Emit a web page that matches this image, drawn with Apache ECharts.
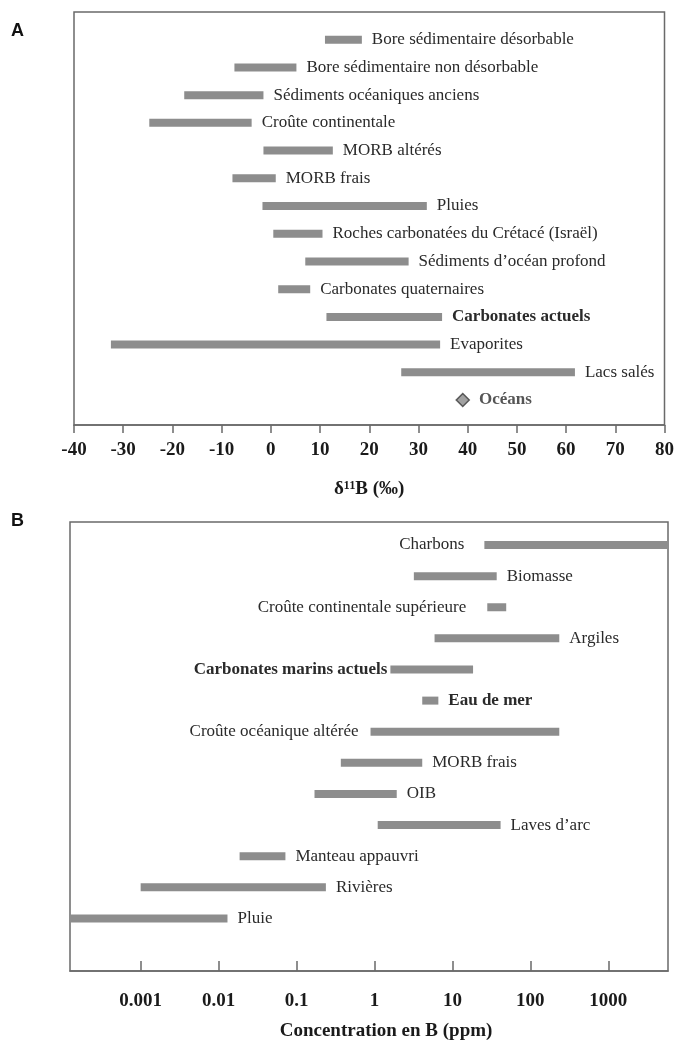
<!DOCTYPE html>
<html>
<head>
<meta charset="utf-8">
<script src="https://cdn.jsdelivr.net/npm/echarts@6/dist/echarts.min.js"></script>
<style>
  html, body { margin: 0; padding: 0; background: #ffffff; }
  #chart { width: 677px; height: 1049px; }
</style>
</head>
<body>
<div id="chart"></div>
<script>
// ---------- Panel A : δ11B (‰) ----------
const isoCategories = [
  "Bore sédimentaire désorbable",
  "Bore sédimentaire non désorbable",
  "Sédiments océaniques anciens",
  "Croûte continentale",
  "MORB altérés",
  "MORB frais",
  "Pluies",
  "Roches carbonatées du Crétacé (Israël)",
  "Sédiments d’océan profond",
  "Carbonates quaternaires",
  "Carbonates actuels",
  "Evaporites",
  "Lacs salés"
];
const isoMin = [11, -7.4, -17.6, -24.7, -1.5, -7.8, -1.7, 0.5, 7, 1.5, 11.3, -32.5, 26.5];
const isoMax = [18.5, 5.2, -1.5, -3.9, 12.6, 1, 31.7, 10.5, 28, 8, 34.8, 34.4, 61.8];
const oceansLabel = "Océans";
const oceansValue = 39;
const isoTicks = [-40, -30, -20, -10, 0, 10, 20, 30, 40, 50, 60, 70, 80];

// ---------- Panel B : Concentration en B (ppm) ----------
const concCategories = [
  "Charbons",
  "Biomasse",
  "Croûte continentale supérieure",
  "Argiles",
  "Carbonates marins actuels",
  "Eau de mer",
  "Croûte océanique altérée",
  "MORB frais",
  "OIB",
  "Laves d’arc",
  "Manteau appauvri",
  "Rivières",
  "Pluie"
];
const concMin = [25.7, 3.2, 28, 5.9, 1.6, 4.1, 0.89, 0.37, 0.17, 1.1, 0.0186, 0.001, 0.0001];
const concMax = [6000, 37, 49, 235, 18.4, 6.6, 235, 4.1, 1.93, 41.5, 0.072, 0.238, 0.013];
const concTicks = [0.001, 0.01, 0.1, 1, 10, 100, 1000];

// ---------- styles (kept apart from the data) ----------
const SERIF = "'Liberation Serif', 'Times New Roman', serif";
const BAR_COLOR = "#8d8d8d";
const TEXT_COLOR = "#2a2a2a";
const AXIS_COLOR = "#6a6a6a";
const BAR_H = 8;
const boldNames = new Set(["Carbonates actuels", "Carbonates marins actuels", "Eau de mer", "Océans"]);
const leftLabels = {
  "Charbons": 20,
  "Croûte continentale supérieure": 21,
  "Carbonates marins actuels": 3,
  "Croûte océanique altérée": 12
};

function makeRender(categories) {
  return function (params, api) {
    const lo = api.value(0), hi = api.value(1), row = api.value(2);
    const name = categories[params.dataIndex];
    const p0 = api.coord([lo, row]);
    const p1 = api.coord([hi, row]);
    const cs = params.coordSys;
    const x0 = Math.max(p0[0], cs.x);
    const x1 = Math.min(p1[0], cs.x + cs.width);
    const y = p0[1];
    const left = Object.prototype.hasOwnProperty.call(leftLabels, name);
    const gap = left ? leftLabels[name] : 10;
    return {
      type: 'group',
      children: [
        { type: 'rect', shape: { x: x0, y: y - BAR_H / 2, width: x1 - x0, height: BAR_H },
          style: { fill: BAR_COLOR } },
        { type: 'text',
          style: {
            x: left ? x0 - gap : x1 + gap, y: y,
            text: name,
            align: left ? 'right' : 'left', verticalAlign: 'middle',
            font: (boldNames.has(name) ? 'bold ' : '') + '17px ' + SERIF,
            fill: TEXT_COLOR
          } }
      ]
    };
  };
}

const isoData = isoCategories.map((c, i) => [isoMin[i], isoMax[i], i]);
const concData = concCategories.map((c, i) => [concMin[i], concMax[i], i]);

const chart = echarts.init(document.getElementById('chart'), null, { renderer: 'canvas' });

const tickLabelStyle = { fontFamily: SERIF, fontWeight: 'bold', fontSize: 19, color: '#1a1a1a' };
const nameStyle = { fontFamily: SERIF, fontWeight: 'bold', fontSize: 19, color: '#1a1a1a' };

chart.setOption({
  animation: false,
  backgroundColor: '#ffffff',
  graphic: [
    { type: 'text', left: 11, top: 22, style: { text: 'A', font: "bold 18px 'Liberation Sans', Arial, sans-serif", fill: '#111' } },
    { type: 'text', left: 11, top: 512, style: { text: 'B', font: "bold 18px 'Liberation Sans', Arial, sans-serif", fill: '#111' } }
  ],
  grid: [
    { left: 74, top: 12, width: 593, height: 413, show: true, borderColor: AXIS_COLOR, borderWidth: 1.5, backgroundColor: 'transparent' },
    { left: 70, top: 522, width: 598, height: 449, show: true, borderColor: AXIS_COLOR, borderWidth: 1.5, backgroundColor: 'transparent' }
  ],
  xAxis: [
    {
      gridIndex: 0, type: 'value',
      min: isoTicks[0], max: isoTicks[isoTicks.length - 1], interval: isoTicks[1] - isoTicks[0],
      name: 'δ¹¹B (‰)', nameLocation: 'middle', nameGap: 55, nameTextStyle: nameStyle,
      axisLine: { show: true, onZero: false, lineStyle: { color: AXIS_COLOR, width: 1.5 } },
      axisTick: { show: true, inside: false, length: 8, lineStyle: { color: AXIS_COLOR, width: 1.5 } },
      axisLabel: Object.assign({ margin: 16 }, tickLabelStyle),
      splitLine: { show: false }
    },
    {
      gridIndex: 1, type: 'log', logBase: 10,
      min: 0.000124, max: 5834, splitNumber: 8,
      name: 'Concentration en B (ppm)', nameLocation: 'middle', nameGap: 51,
      nameTextStyle: Object.assign({ padding: [0, 0, 0, 34] }, nameStyle),
      axisLine: { show: true, onZero: false, lineStyle: { color: AXIS_COLOR, width: 1.5 } },
      axisTick: { show: true, inside: true, length: 10, lineStyle: { color: AXIS_COLOR, width: 1.5 } },
      axisLabel: Object.assign({
        margin: 21, showMinLabel: false, showMaxLabel: false,
        formatter: function (v) {
          const r = +(+v).toPrecision(6);
          return concTicks.some(t => Math.abs(t - r) / t < 1e-6) ? String(r) : '';
        }
      }, tickLabelStyle),
      splitLine: { show: false }
    }
  ],
  yAxis: [
    { gridIndex: 0, type: 'value', inverse: true, min: -1, max: 13.9, show: false, splitLine: { show: false } },
    { gridIndex: 1, type: 'value', inverse: true, min: -0.74, max: 13.69, show: false, splitLine: { show: false } }
  ],
  series: [
    {
      type: 'custom', xAxisIndex: 0, yAxisIndex: 0,
      renderItem: makeRender(isoCategories),
      encode: { x: [0, 1], y: 2 },
      data: isoData
    },
    {
      type: 'scatter', xAxisIndex: 0, yAxisIndex: 0,
      symbol: 'diamond', symbolSize: 13,
      itemStyle: { color: '#8a8a8a', borderColor: '#3a3a3a', borderWidth: 1.5 },
      label: {
        show: true, position: 'right', distance: 9,
        formatter: oceansLabel,
        fontFamily: SERIF, fontWeight: 'bold', fontSize: 17, color: TEXT_COLOR
      },
      data: [[oceansValue, isoCategories.length]]
    },
    {
      type: 'custom', xAxisIndex: 1, yAxisIndex: 1,
      renderItem: makeRender(concCategories),
      encode: { x: [0, 1], y: 2 },
      data: concData
    }
  ]
});
</script>
</body>
</html>
